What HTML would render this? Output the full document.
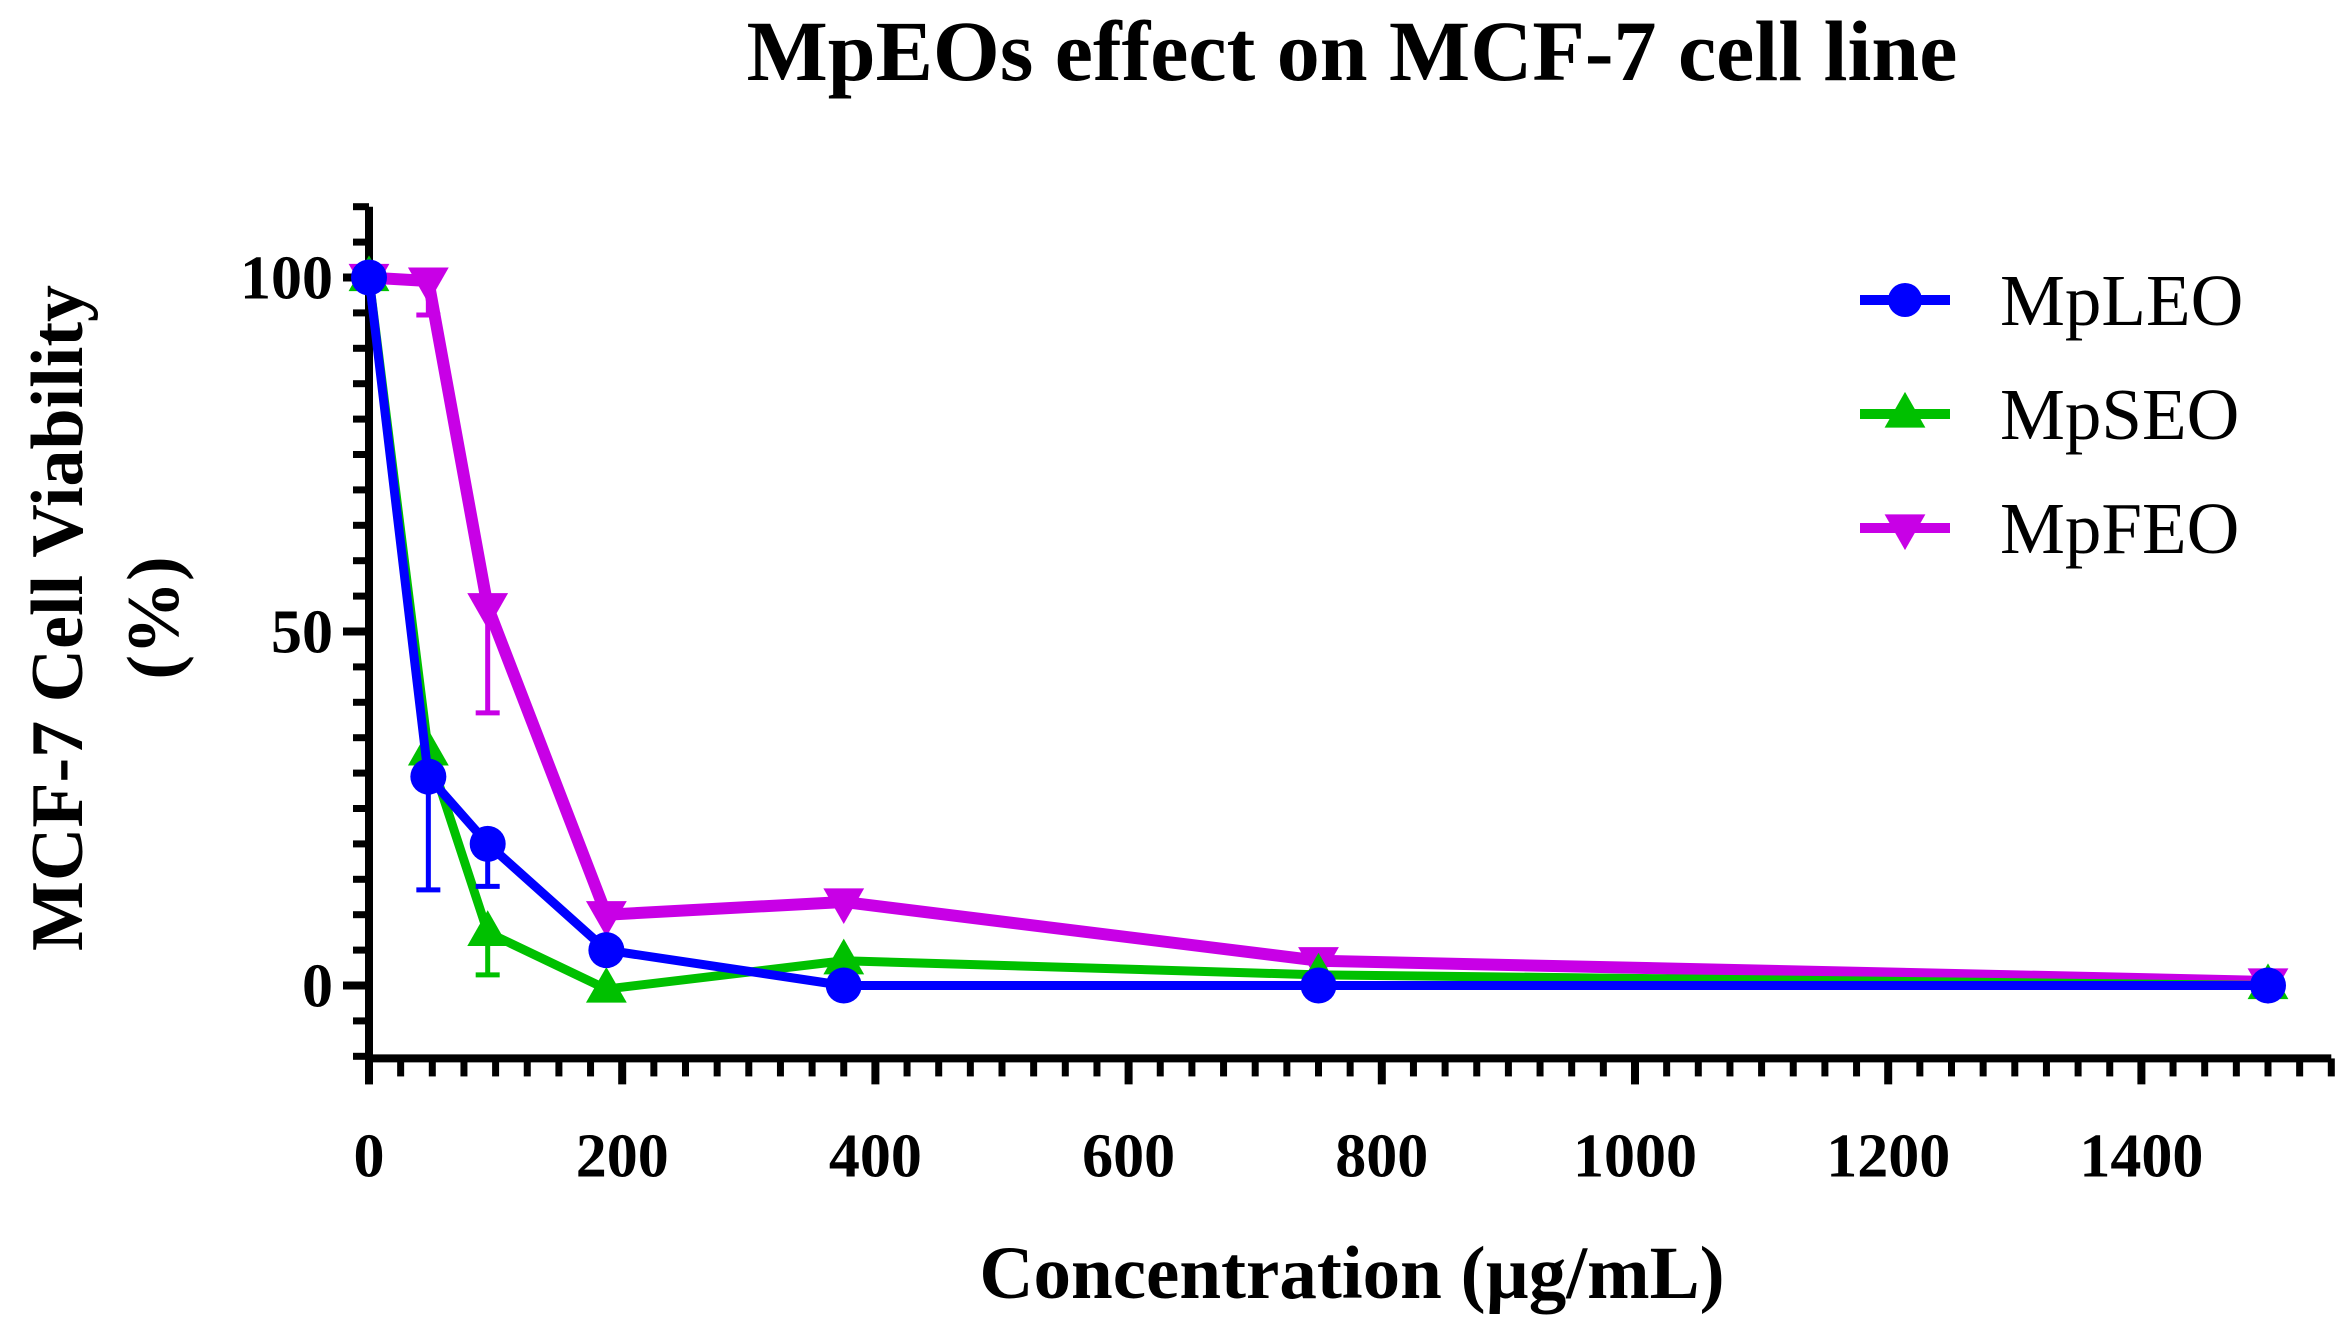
<!DOCTYPE html>
<html><head><meta charset="utf-8"><style>
html,body{margin:0;padding:0;background:#fff}
svg{display:block;font-family:"Liberation Serif",serif}
</style></head><body>
<svg id="chart" width="2352" height="1336" viewBox="0 0 2352 1336">
<text x="1352" y="80" text-anchor="middle" font-size="86" font-weight="bold">MpEOs effect on MCF-7 cell line</text>
<g id="axes"></g>
<g id="series"></g>
<text transform="translate(82,618) rotate(-90)" text-anchor="middle" font-size="74" font-weight="bold">MCF-7 Cell Viability</text>
<text transform="translate(178,618) rotate(-90)" text-anchor="middle" font-size="74" font-weight="bold">(%)</text>
<text x="1352" y="1298" text-anchor="middle" font-size="75" font-weight="bold">Concentration (µg/mL)</text>
<g id="legend"></g>
</svg>
<script>
const xValues=[0,46.875,93.75,187.5,375,750,1500];
const leoValues=[100,29.5,20,5,0,0,0];
const leoErrLow=[0,16,6,0,0,0,0];
const seoValues=[100,33,7.5,-0.5,3.5,1.5,0];
const seoErrLow=[0,0,6,0,0,0,0];
const feoValues=[100,99.5,53.5,10,11.8,3.5,0.5];
const feoErrLow=[0,4.8,15,0,0,0,0];
const xTicks=[0,200,400,600,800,1000,1200,1400];
const yTicks=[0,50,100];
const seriesNames=["MpLEO","MpSEO","MpFEO"];

const NS="http://www.w3.org/2000/svg";
const X0=369,XS=1.266,Y0=985.5,YS=7.08;
const sx=v=>X0+v*XS, sy=v=>Y0-v*YS;
function mk(tag,attrs,parent){const e=document.createElementNS(NS,tag);for(const k in attrs)e.setAttribute(k,attrs[k]);parent.appendChild(e);return e;}
const axes=document.getElementById('axes');
const ya=mk('line',{x1:sx(0),y1:sy(110),x2:sx(0),y2:sy(-10.3)+4,stroke:'#000','stroke-width':8},axes);

for(let v=-10;v<=110;v+=5){const major=v%50===0;
 const t=mk('line',{x1:sx(0)-(major?26:16),y1:sy(v),x2:sx(0),y2:sy(v),stroke:'#000','stroke-width':major?8:7},axes);
 }
yTicks.forEach(v=>{const t=mk('text',{x:sx(0)-36,y:sy(v)+21,'text-anchor':'end','font-size':62,'font-weight':'bold'},axes);t.textContent=v;
 });
const xaY=sy(-10.3);
const xa=mk('line',{x1:sx(0)-4,y1:xaY,x2:sx(1550),y2:xaY,stroke:'#000','stroke-width':8},axes);

for(let v=0;v<=1550;v+=25){const major=v%200===0;
 const t=mk('line',{x1:sx(v),y1:xaY,x2:sx(v),y2:xaY+(major?26:18),stroke:'#000','stroke-width':major?8:7},axes);
 }
xTicks.forEach(v=>{const t=mk('text',{x:sx(v),y:xaY+118,'text-anchor':'middle','font-size':62,'font-weight':'bold'},axes);t.textContent=v;
 });

const ser=document.getElementById('series');
function marker(kind,x,y,color,parent,r){
 let m;
 if(kind==='circle')m=mk('circle',{cx:x,cy:y,r:r,fill:color},parent);
 else if(kind==='up')m=mk('polygon',{points:`${x},${y-r*1.3} ${x-r*1.2},${y+r*0.8} ${x+r*1.2},${y+r*0.8}`,fill:color},parent);
 else m=mk('polygon',{points:`${x},${y+r*1.3} ${x-r*1.2},${y-r*0.8} ${x+r*1.2},${y-r*0.8}`,fill:color},parent);
 return m;}
function drawSeries(vals,errs,color,kind,width,name){
 const g=mk('g',{},ser);
 vals.forEach((v,i)=>{if(errs[i]>0){
  const e=mk('path',{d:`M${sx(xValues[i])},${sy(v)} V${sy(v-errs[i])} M${sx(xValues[i])-12},${sy(v-errs[i])} H${sx(xValues[i])+12}`,stroke:color,'stroke-width':5,fill:'none'},g);
  }});
 const p=mk('polyline',{points:vals.map((v,i)=>sx(xValues[i])+','+sy(v)).join(' '),stroke:color,'stroke-width':width,fill:'none','stroke-linejoin':'round'},g);
 
 vals.forEach((v,i)=>{const m=marker(kind,sx(xValues[i]),sy(v),color,g,kind==='circle'?18:17);
  });
}
drawSeries(feoValues,feoErrLow,'#c800e6','down',12,'mpfeo');
drawSeries(seoValues,seoErrLow,'#00c000','up',9,'mpseo');
drawSeries(leoValues,leoErrLow,'#0000ff','circle',9,'mpleo');

const leg=document.getElementById('legend');
const legColors=['#0000ff','#00c000','#c800e6'],legKinds=['circle','up','down'];
seriesNames.forEach((n,i)=>{const y=300+i*114;
 const g=mk('g',{},leg);
 mk('line',{x1:1860,y1:y,x2:1950,y2:y,stroke:legColors[i],'stroke-width':10},g);
 marker(legKinds[i],1905,y,legColors[i],g,17);
 const t=mk('text',{x:2000,y:y+25,'font-size':73},g);t.textContent=n;
 });
</script>
</body></html>
